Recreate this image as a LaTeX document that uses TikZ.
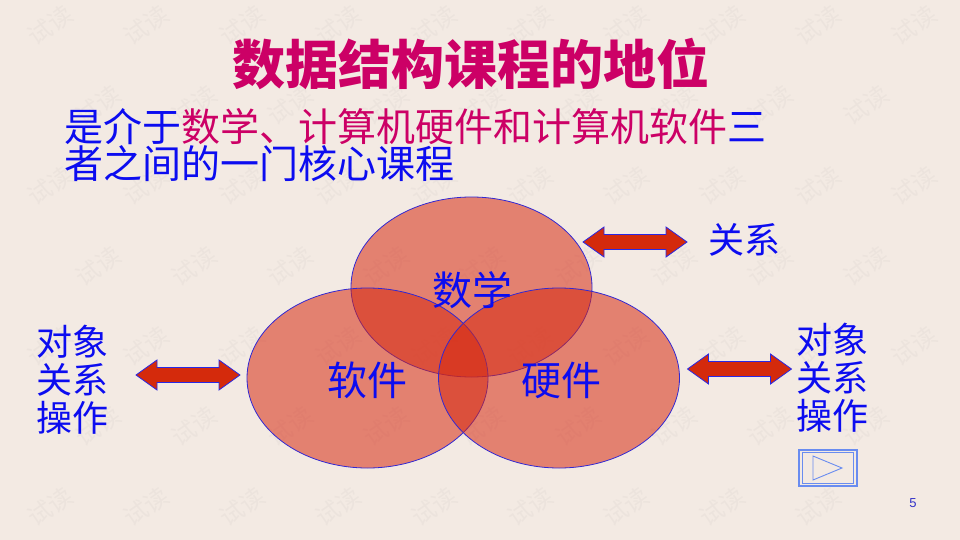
\documentclass[tikz,border=0pt]{standalone}
\usepackage{fontspec}
\setmainfont{Liberation Sans}
\newfontfamily\cjk{Noto Sans CJK SC}
\usetikzlibrary{shapes.geometric}
\definecolor{bgc}{RGB}{243,234,227}
\definecolor{ttl}{RGB}{204,0,102}
\definecolor{txtblue}{RGB}{12,12,240}
\definecolor{vennfill}{RGB}{214,40,16}
\definecolor{vennline}{RGB}{50,40,210}
\definecolor{arrfill}{RGB}{212,42,12}
\definecolor{arrline}{RGB}{40,40,230}
\definecolor{btn}{RGB}{105,140,240}
\definecolor{pgnum}{RGB}{50,50,200}
\tikzset{
  venn/.style={ellipse, inner sep=0pt, minimum width=241, minimum height=180,
    fill=vennfill, fill opacity=0.54, draw=vennline, draw opacity=1, line width=0.8pt},
  vlabel/.style={font=\cjk\fontsize{40}{40}\selectfont, text=txtblue, inner sep=0pt},
  slabel/.style={font=\cjk\fontsize{36}{38}\selectfont, text=txtblue, inner sep=0pt, align=center},
  arrshape/.style={fill=arrfill, draw=arrline, line width=0.8pt, line join=miter},
  wmark/.style={font=\cjk\fontsize{24}{24}\selectfont, text=black!50, text opacity=0.06, rotate=35, inner sep=0pt},
  dblarr/.pic={
    \draw[arrshape] (-52,0) -- (-31,-15) -- (-31,-7.5) -- (31,-7.5) -- (31,-15) -- (52,0)
      -- (31,15) -- (31,7.5) -- (-31,7.5) -- (-31,15) -- cycle;
  }
}
\begin{document}
\begin{tikzpicture}[x=1pt,y=-1pt]
\useasboundingbox (0,0) rectangle (960,540);
\fill[bgc] (0,0) rectangle (960,540);

% watermark (faint, behind)
\foreach \k in {0,2,4} {
  \foreach \i in {0,...,9} {
    \pgfmathsetmacro{\wy}{25+80.3*\k}
    \pgfmathsetmacro{\wx}{50+96*\i}
    \node[wmark] (wm-\k-\i) at (\wx,\wy) {试读};
  }
}
\foreach \i in {0,...,8} {
  \pgfmathsetmacro{\wx}{50+96*\i}
  \node[wmark] (wm-6-\i) at (\wx,506.8) {试读};
}
\foreach \k in {1,3,5} {
  \foreach \i in {0,...,8} {
    \pgfmathsetmacro{\wy}{25+80.3*\k}
    \pgfmathsetmacro{\wx}{98+96*\i}
    \node[wmark] (wm-\k-\i) at (\wx,\wy) {试读};
  }
}

% title
\node[font=\cjk\bfseries\fontsize{53}{53}\selectfont, text=ttl, inner sep=0pt] (title) at (471,64) {数据结构课程的地位};
% subtitle
\node[font=\cjk\fontsize{39}{39}\selectfont, text=txtblue, inner sep=0pt, anchor=west] (sub1) at (64,127)
  {是介于\textcolor{ttl}{数学、计算机硬件和计算机软件}三};
\node[font=\cjk\fontsize{39}{39}\selectfont, text=txtblue, inner sep=0pt, anchor=west] (sub2) at (64,164)
  {者之间的一门核心课程};

% venn ellipses
\node[venn] (math) at (471.5,287) {};
\node[venn] (soft) at (367.5,378) {};
\node[venn] (hard) at (559,378) {};
\node[vlabel] (mathl) at (472,290) {数学};
\node[vlabel] (softl) at (367,380) {软件};
\node[vlabel] (hardl) at (561,380) {硬件};

% arrows
\pic (a1) at (635,242) {dblarr};
\pic (a2) at (188,375) {dblarr};
\pic (a3) at (739.5,369) {dblarr};

% side labels
\node[slabel] (rel) at (744,240) {关系};
\node[slabel] (leftl) at (72,380) {对象\\关系\\操作};
\node[slabel] (rightl) at (832,378) {对象\\关系\\操作};

% play button
\node[draw=btn, line width=1.2pt, minimum width=58, minimum height=36, inner sep=0pt] (btnouter) at (828,468) {};
\node[draw=btn, line width=0.8pt, minimum width=51, minimum height=31, inner sep=0pt] (btninner) at (828,468) {};
\draw[btn, line width=0.9pt, line join=miter] (813,456) -- (842,468) -- (813,480) -- cycle;

% page number
\node[font=\fontsize{13}{13}\selectfont, text=pgnum, inner sep=0pt] (pg) at (913,503) {5};
\end{tikzpicture}
\end{document}
